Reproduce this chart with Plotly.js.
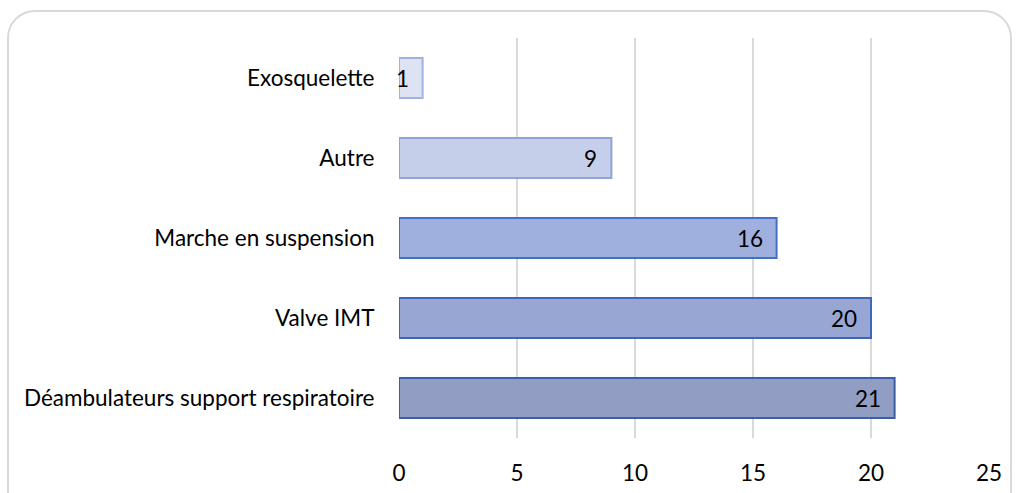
<!DOCTYPE html>
<html>
<head>
<meta charset="utf-8">
<script src="https://cdn.plot.ly/plotly-3.0.1.min.js"></script>
<style>
  html, body { margin: 0; padding: 0; background: #ffffff; }
  #wrap { position: relative; width: 1020px; height: 493px; overflow: hidden; }
  #frame { position: absolute; left: 7px; top: 10px; width: 1005px; height: 520px;
           border: 2px solid #d9d9d9; border-radius: 28px; box-sizing: border-box; pointer-events: none; }
  #chart { position: absolute; left: 0; top: 0; width: 1020px; height: 493px; }
</style>
</head>
<body>
<div id="wrap">
  <div id="frame"></div>
  <div id="chart"></div>
</div>
<script>
const categories = ["Exosquelette", "Autre", "Marche en suspension", "Valve IMT", "Déambulateurs support respiratoire"];
const values = [1, 9, 16, 20, 21];
const xTicks = [0, 5, 10, 15, 20, 25];

const fillColors = ["#dde3f3", "#c6cfea", "#9fb0de", "#98a6d4", "#929dc3"];
const lineColors = ["#9fb3de", "#8ea4d8", "#4470c1", "#3e67b9", "#3c5ea9"];

const FONT = "Lato, Open Sans, sans-serif";
const FS = 22.5;

const trace = {
  type: "bar",
  orientation: "h",
  y: categories,
  x: values,
  marker: { color: fillColors, line: { color: lineColors, width: 2 } },
  hoverinfo: "skip",
  showlegend: false
};

const annotations = values.map((v, i) => ({
  x: v, y: categories[i], xref: "x", yref: "y",
  text: String(v), showarrow: false, xanchor: "right", xshift: -12,
  font: { family: FONT, size: FS, color: "#000000" }
}));

const layout = {
  width: 1020, height: 493,
  margin: { l: 399, r: 31, t: 38, b: 55 },
  paper_bgcolor: "rgba(0,0,0,0)",
  plot_bgcolor: "rgba(0,0,0,0)",
  bargap: 0.5,
  font: { family: FONT, size: FS, color: "#000000" },
  xaxis: {
    range: [0, 25], tickvals: xTicks, ticktext: xTicks.map(String),
    showgrid: true, gridcolor: "#d9d9d9", gridwidth: 1.5,
    zeroline: false, showline: false,
    ticks: "outside", ticklen: 15, tickcolor: "rgba(0,0,0,0)",
    tickfont: { family: FONT, size: FS, color: "#000000" }, fixedrange: true
  },
  yaxis: {
    type: "category", categoryorder: "array", categoryarray: categories,
    autorange: "reversed",
    showgrid: false, zeroline: false, showline: false,
    ticks: "outside", ticklen: 19, tickcolor: "rgba(0,0,0,0)",
    tickfont: { family: FONT, size: FS, color: "#000000" }, fixedrange: true
  },
  annotations: annotations
};

Plotly.newPlot("chart", [trace], layout, { displayModeBar: false, staticPlot: true });
</script>
</body>
</html>
